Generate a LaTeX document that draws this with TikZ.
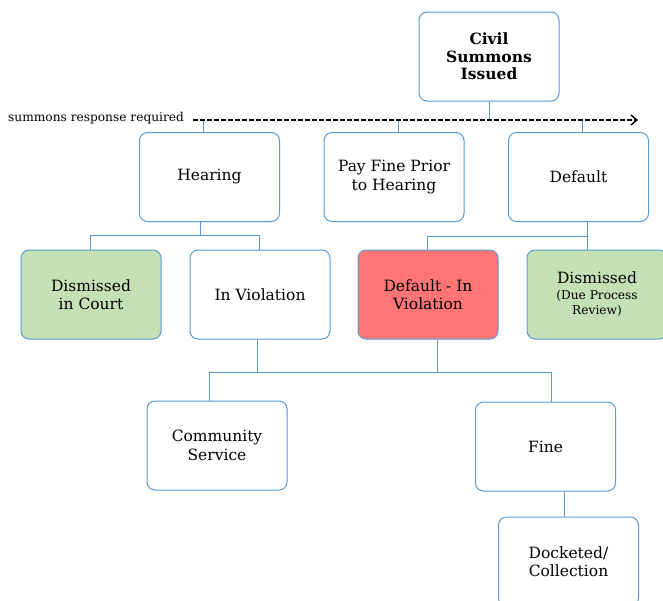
\documentclass[tikz,border=0pt]{standalone}
\usepackage{fontspec}
\setmainfont{DejaVu Serif}
\usetikzlibrary{arrows.meta}
\definecolor{lineblue}{HTML}{5B9BD5}
\definecolor{boxgreen}{HTML}{C5E0B4}
\definecolor{boxred}{HTML}{FF7575}
\tikzset{
  box/.style={draw=lineblue, line width=1pt, rounded corners=8pt, fill=white,
    minimum width=140pt, minimum height=89pt, align=center, inner sep=2pt,
    font=\fontsize{15.5}{18.5}\selectfont, text=black},
  conn/.style={draw=lineblue, line width=1pt},
  respline/.style={draw=black, line width=1.3pt, dash pattern=on 4.5pt off 2.5pt, -{Straight Barb[length=6pt,width=10pt,line width=1.4pt]}},
}
\begin{document}
\begin{tikzpicture}[x=1pt,y=-1pt]
\clip (0,0) rectangle (663,600);
\fill[white] (0,0) rectangle (663,600);

\node[box, font=\fontsize{15.5}{17.5}\selectfont\bfseries] (civil) at (489,56.5) {Civil\\Summons\\Issued};

\node[anchor=west, font=\fontsize{12.2}{14}\selectfont, inner sep=0pt] (resp) at (8,118.5) {summons response required};
\coordinate (ds) at (193,120);
\coordinate (de) at (638,120);

\node[box] (hearing) at (209.5,177) {Hearing};
\node[box] (payfine) at (394,177) {Pay Fine Prior\\to Hearing};
\node[box] (default) at (578.5,177) {Default};

\node[box, fill=boxgreen] (dic) at (91,294.5) {Dismissed\\in Court};
\node[box] (inv) at (260,294.5) {In Violation};
\node[box, fill=boxred] (dinv) at (428,294.5) {Default - In\\Violation};
\node[box, fill=boxgreen] (dis) at (597,294.5) {Dismissed\\[-3pt]{\fontsize{12.2}{14}\selectfont (Due Process}\\[-3pt]{\fontsize{12.2}{14}\selectfont Review)}};

\node[box] (comm) at (217,445.5) {Community\\Service};
\node[box] (fine) at (545.5,446.5) {Fine};
\node[box] (dock) at (568.5,561.5) {Docketed/\\Collection};

% top connectors
\draw[conn] (civil.south) -- (civil.south |- ds);
\coordinate (hx) at (203,120);
\coordinate (px) at (398,120);
\coordinate (dx) at (582,120);
\draw[conn] (hx) -- (hearing.north -| hx);
\draw[conn] (px) -- (payfine.north -| px);
\draw[conn] (dx) -- (default.north -| dx);
\draw[respline] (ds) -- (de);

% hearing children
\coordinate (j1) at (200,235);
\coordinate (a1) at (90,235);
\coordinate (b1) at (259,235);
\draw[conn] (hearing.south -| j1) -- (j1);
\draw[conn] (dic.north -| a1) -- (a1) -- (b1) -- (inv.north -| b1);

% default children
\coordinate (j2) at (587,236);
\coordinate (a2) at (427,236);
\draw[conn] (default.south -| j2) -- (j2);
\draw[conn] (dinv.north -| a2) -- (a2) -- (j2) -- (dis.north -| j2);

% row 2 to row 3
\coordinate (c1) at (257,372);
\coordinate (c2) at (437,372);
\coordinate (cl) at (209,372);
\coordinate (cr) at (551,372);
\draw[conn] (inv.south -| c1) -- (c1);
\draw[conn] (dinv.south -| c2) -- (c2);
\draw[conn] (comm.north -| cl) -- (cl) -- (cr) -- (fine.north -| cr);

% fine to docketed
\coordinate (fx) at (564,500);
\draw[conn] (fine.south -| fx) -- (dock.north -| fx);
\end{tikzpicture}
\end{document}
